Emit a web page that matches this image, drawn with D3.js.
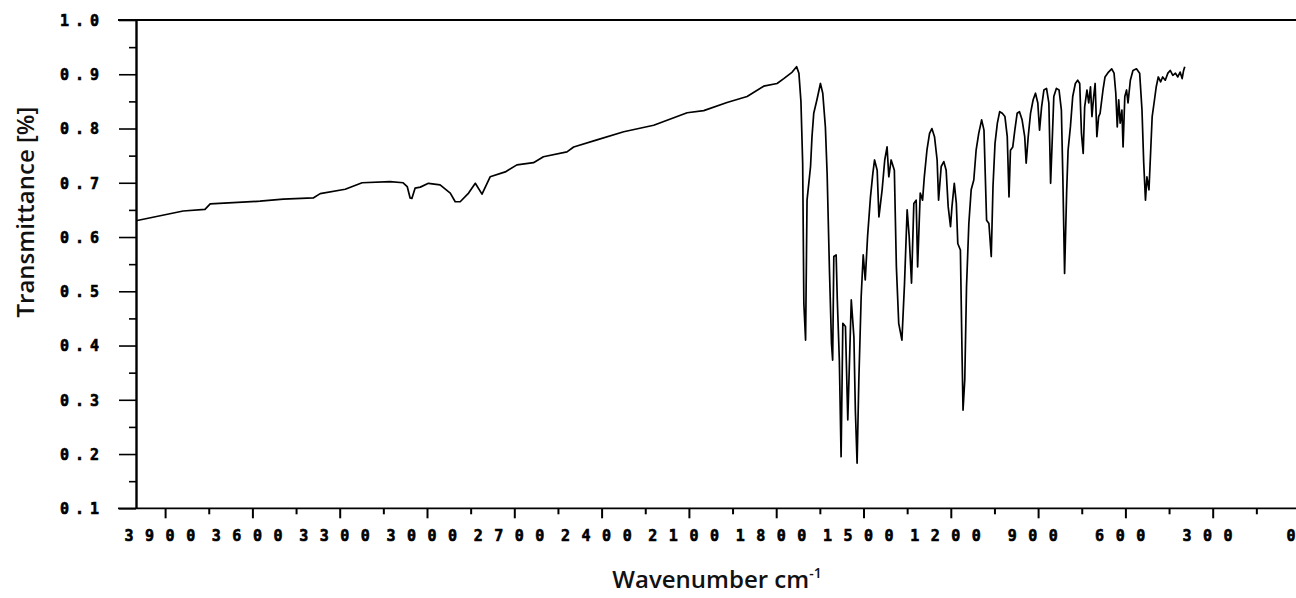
<!DOCTYPE html>
<html>
<head>
<meta charset="utf-8">
<script src="https://cdn.jsdelivr.net/npm/d3@7"></script>
<style>
  html, body { margin: 0; padding: 0; background: #fff; }
  svg { display: block; }
</style>
</head>
<body>
<svg id="chart" width="1296" height="598"></svg>
<script>
// ---- data ----
const wavenumbers = [
  4000, 3838, 3763, 3745, 3574, 3494, 3391, 3367, 3281, 3223, 3127, 3082, 3068, 3058, 3052, 3041, 3023, 2995,
  2955, 2920, 2903, 2886, 2857, 2834, 2811, 2783, 2731, 2691, 2634, 2600, 2519, 2496, 2416, 2324, 2221, 2106,
  2049, 1969, 1900, 1843, 1797, 1774, 1745, 1730, 1722, 1715, 1709, 1705, 1699, 1694, 1682, 1677, 1671, 1660,
  1648, 1640, 1631, 1625, 1617, 1610, 1606, 1602, 1594, 1590, 1583, 1577, 1571, 1562, 1554, 1547, 1542, 1533,
  1528, 1522, 1516, 1508, 1501, 1494, 1486, 1476, 1468, 1462, 1453, 1447, 1436, 1427, 1419, 1413, 1405, 1394,
  1387, 1379, 1368, 1359, 1350, 1343, 1335, 1327, 1319, 1314, 1305, 1297, 1291, 1282, 1273, 1265, 1256, 1247,
  1242, 1233, 1224, 1216, 1209, 1201, 1196, 1188, 1181, 1176, 1167, 1161, 1158, 1152, 1146, 1138, 1130, 1121,
  1113, 1104, 1094, 1086, 1077, 1069, 1061, 1055, 1048, 1040, 1032, 1023, 1014, 1006, 1000, 995, 987, 980,
  972, 964, 955, 946, 941, 934, 926, 917, 909, 901, 895, 888, 880, 871, 863, 857, 851, 846,
  837, 828, 820, 815, 809, 802, 797, 789, 781, 772, 764, 757, 751, 745, 740, 732, 726, 720,
  715, 709, 704, 698, 692, 687, 677, 670, 658, 647, 639, 633, 628, 623, 618, 612, 608, 602,
  596, 591, 583, 574, 562, 551, 543, 537, 531, 526, 519, 513, 508, 500, 494, 487, 479, 472,
  463, 454, 446, 437, 428, 420, 412, 405, 400, 396
];
const transmittance = [
  0.630, 0.648, 0.651, 0.661, 0.666, 0.670, 0.672, 0.680, 0.688, 0.700, 0.702, 0.700, 0.693, 0.672, 0.671, 0.690, 0.692, 0.699,
  0.696, 0.681, 0.665, 0.665, 0.681, 0.699, 0.679, 0.711, 0.720, 0.733, 0.737, 0.748, 0.757, 0.766, 0.779, 0.794, 0.806, 0.829,
  0.833, 0.848, 0.859, 0.878, 0.883, 0.892, 0.904, 0.914, 0.902, 0.850, 0.736, 0.478, 0.410, 0.668, 0.730, 0.785, 0.828, 0.853,
  0.883, 0.865, 0.803, 0.717, 0.539, 0.404, 0.373, 0.564, 0.567, 0.484, 0.373, 0.195, 0.441, 0.435, 0.263, 0.392, 0.484, 0.416,
  0.281, 0.183, 0.337, 0.490, 0.567, 0.521, 0.601, 0.674, 0.717, 0.742, 0.723, 0.637, 0.687, 0.742, 0.766, 0.711, 0.742, 0.723,
  0.545, 0.441, 0.410, 0.515, 0.650, 0.601, 0.515, 0.662, 0.668, 0.545, 0.681, 0.668, 0.711, 0.760, 0.791, 0.800, 0.785, 0.742,
  0.668, 0.730, 0.739, 0.723, 0.656, 0.619, 0.656, 0.699, 0.662, 0.588, 0.576, 0.373, 0.281, 0.337, 0.508, 0.625, 0.687, 0.705,
  0.760, 0.791, 0.816, 0.797, 0.631, 0.625, 0.564, 0.693, 0.773, 0.810, 0.831, 0.828, 0.822, 0.785, 0.674, 0.760, 0.766, 0.797,
  0.828, 0.831, 0.816, 0.785, 0.736, 0.785, 0.828, 0.853, 0.865, 0.847, 0.797, 0.840, 0.871, 0.874, 0.847, 0.699, 0.785, 0.859,
  0.874, 0.871, 0.834, 0.711, 0.533, 0.681, 0.760, 0.803, 0.859, 0.883, 0.889, 0.883, 0.791, 0.754, 0.840, 0.871, 0.847, 0.877,
  0.822, 0.859, 0.883, 0.785, 0.822, 0.828, 0.871, 0.895, 0.904, 0.910, 0.902, 0.865, 0.803, 0.853, 0.810, 0.834, 0.766, 0.859,
  0.871, 0.847, 0.889, 0.907, 0.910, 0.902, 0.834, 0.736, 0.668, 0.711, 0.687, 0.760, 0.822, 0.853, 0.877, 0.895, 0.886, 0.895,
  0.889, 0.902, 0.907, 0.898, 0.902, 0.895, 0.904, 0.892, 0.907, 0.914
];
const xMajorTicks = [3900, 3600, 3300, 3000, 2700, 2400, 2100, 1800, 1500, 1200, 900, 600, 300, 0];
const xMinorTicks = [3750, 3450, 3150, 2850, 2550, 2250, 1950, 1650, 1350, 1050, 750, 450, 150];
const yMajorTicks = [0.1, 0.2, 0.3, 0.4, 0.5, 0.6, 0.7, 0.8, 0.9, 1.0];
const yMinorTicks = [0.15, 0.25, 0.35, 0.45, 0.55, 0.65, 0.75, 0.85, 0.95];
const xTitle = "Wavenumber cm";
const xTitleSup = "-1";
const yTitle = "Transmittance [%]";

// ---- drawing ----
const svg = d3.select("#chart");
const x = d3.scaleLinear().domain([4000, 0]).range([136, 1300]);
const y = d3.scaleLinear().domain([0.1, 1.0]).range([508.3, 20]);

const tickFont = "'DejaVu Sans Mono', monospace";

// top frame line
svg.append("line").attr("x1", 118).attr("x2", 1296).attr("y1", y(1.0)).attr("y2", y(1.0))
  .attr("stroke", "#000").attr("stroke-width", 1.8);

// y axis: minor ticks
const yMinor = svg.append("g").attr("transform", `translate(${x(4000)},0)`)
  .call(d3.axisLeft(y).tickValues(yMinorTicks).tickSize(7).tickFormat(""));
yMinor.select(".domain").remove();
yMinor.selectAll(".tick line").attr("stroke-width", 1.6);

// y axis: major ticks + labels
const yAx = svg.append("g").attr("transform", `translate(${x(4000)},0)`)
  .call(d3.axisLeft(y).tickValues(yMajorTicks).tickSize(17).tickSizeOuter(0).tickPadding(14)
    .tickFormat(d3.format(".1f")));
yAx.select(".domain").attr("stroke-width", 2.4);
yAx.selectAll(".tick line").attr("stroke-width", 1.6);
yAx.selectAll(".tick text")
  .attr("font-family", tickFont).attr("font-weight", "bold").attr("font-size", 15)
  .attr("letter-spacing", 6).attr("fill", "#000")
  .attr("stroke", "#000").attr("stroke-width", 0.6)
  .attr("dy", "0.36em");

// x axis minor ticks
const xMinor = svg.append("g").attr("transform", `translate(0,${y(0.1)})`)
  .call(d3.axisBottom(x).tickValues(xMinorTicks).tickSize(6).tickFormat(""));
xMinor.select(".domain").remove();
xMinor.selectAll(".tick line").attr("stroke-width", 2);

// x axis major ticks + labels
const xAx = svg.append("g").attr("transform", `translate(0,${y(0.1)})`)
  .call(d3.axisBottom(x).tickValues(xMajorTicks).tickSize(10).tickSizeOuter(0).tickPadding(12)
    .tickFormat(d3.format("d")));
xAx.select(".domain").remove();
xAx.selectAll(".tick line").attr("stroke-width", 2);
xAx.selectAll(".tick text")
  .attr("font-family", tickFont).attr("font-weight", "bold").attr("font-size", 15)
  .attr("letter-spacing", 11.5).attr("fill", "#000")
  .attr("stroke", "#000").attr("stroke-width", 0.6);
// last label sits at the right page edge: keep it inside the page
xAx.selectAll(".tick text").filter(d => d === 0)
  .attr("text-anchor", "end").attr("letter-spacing", 0).attr("dx", -5);

svg.append("line").attr("x1", 118).attr("x2", 1296).attr("y1", y(0.1)).attr("y2", y(0.1))
  .attr("stroke", "#000").attr("stroke-width", 1.8);

// spectrum line
const pts = wavenumbers.map((w, i) => [w, transmittance[i]]);
svg.append("path")
  .datum(pts)
  .attr("fill", "none")
  .attr("stroke", "#000")
  .attr("stroke-width", 1.7)
  .attr("stroke-linejoin", "round")
  .attr("d", d3.line().x(d => x(d[0])).y(d => y(d[1])));

// titles
svg.append("text")
  .attr("transform", `translate(34,212) rotate(-90)`)
  .attr("text-anchor", "middle")
  .attr("font-family", "'Open Sans', sans-serif").attr("font-weight", 600).attr("font-size", 24)
  .attr("fill", "#111")
  .text(yTitle);

const xt = svg.append("text")
  .attr("x", 717).attr("y", 588)
  .attr("text-anchor", "middle")
  .attr("font-family", "'Open Sans', sans-serif").attr("font-weight", 600).attr("font-size", 24)
  .attr("fill", "#111");
xt.append("tspan").text(xTitle);
xt.append("tspan").attr("dy", -10).attr("font-size", 14).text(xTitleSup);
</script>
</body>
</html>
